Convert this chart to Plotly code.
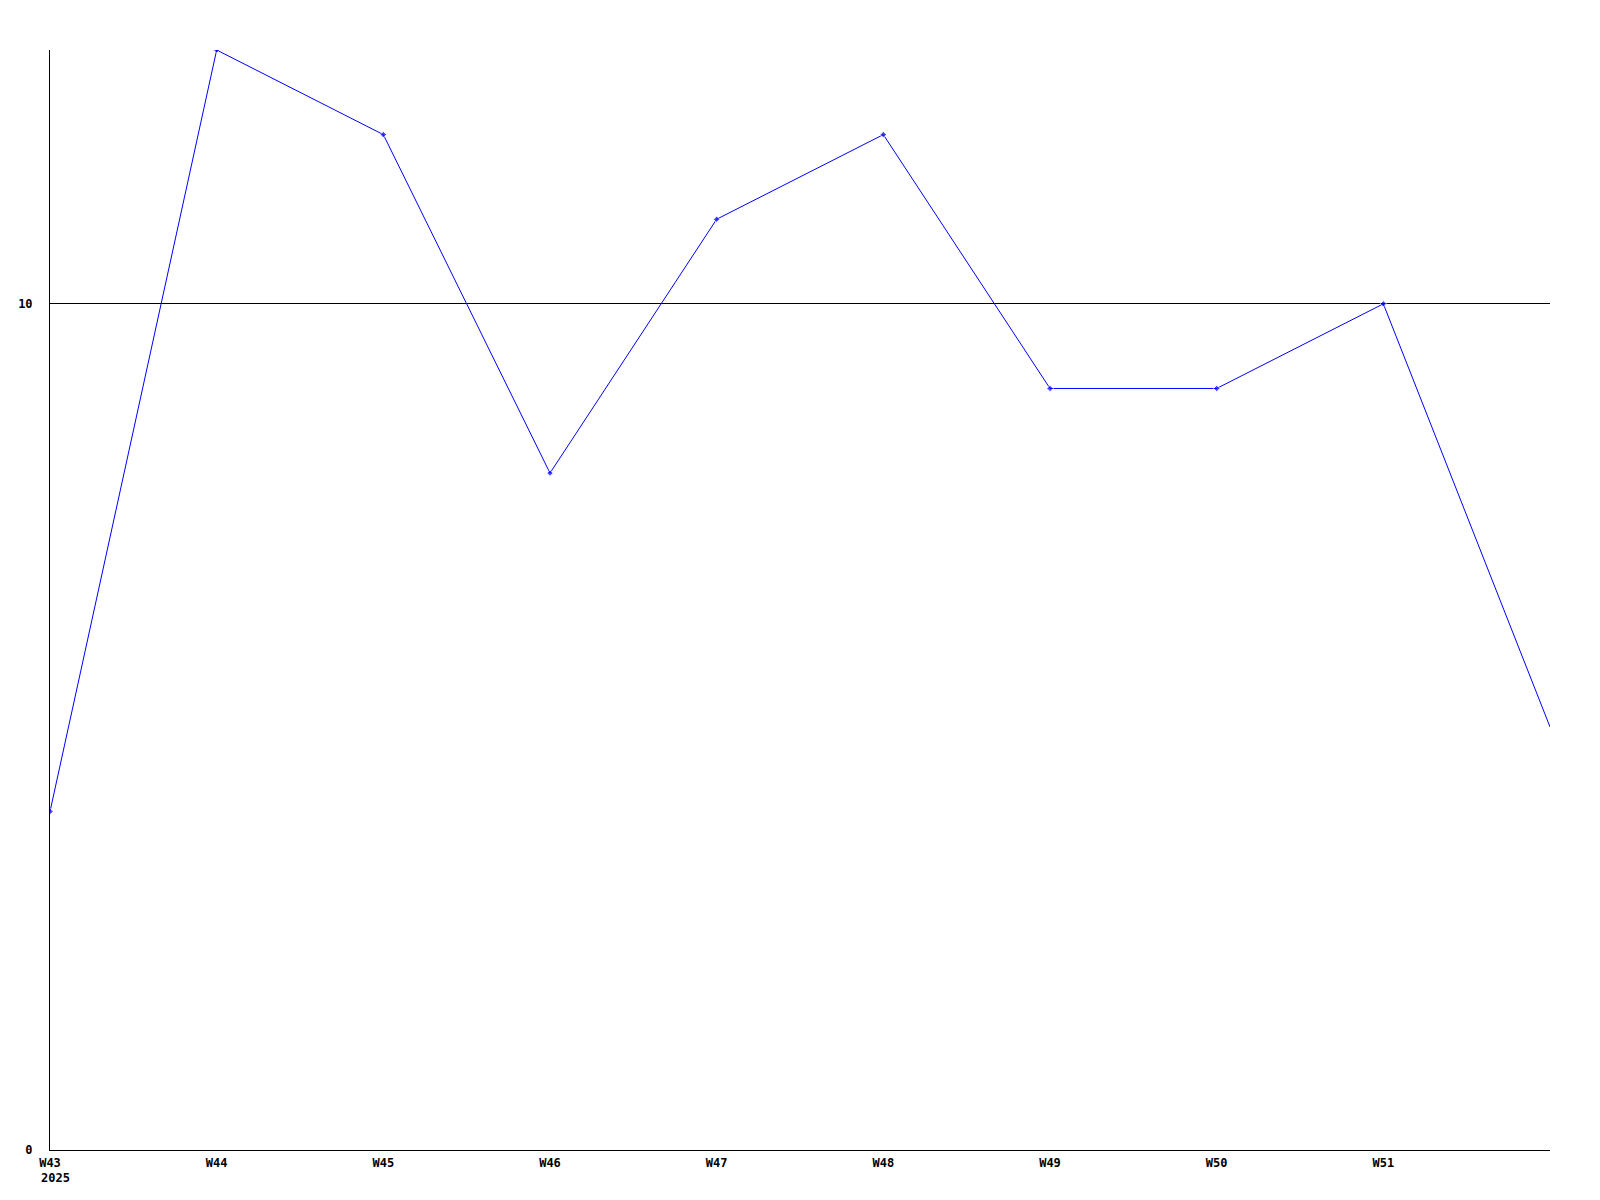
import plotly.graph_objects as go

weeks = ["W43", "W44", "W45", "W46", "W47", "W48", "W49", "W50", "W51", "W52"]
values = [4, 13, 12, 8, 11, 12, 9, 9, 10, 5]
tick_weeks = ["W43", "W44", "W45", "W46", "W47", "W48", "W49", "W50", "W51"]
year_label = "2025"
y_ticks = [0, 10]

marker_sizes = [5] * (len(values) - 1) + [0]

fig = go.Figure()
fig.add_trace(go.Scatter(
    x=weeks, y=values, mode="lines+markers",
    line=dict(color="#0000FF", width=1),
    marker=dict(color="#0000FF", size=marker_sizes, symbol="diamond"),
    hoverinfo="skip",
))

tick_font = dict(family="DejaVu Sans Mono, Liberation Mono, monospace", size=12, color="black", weight="bold")

fig.update_layout(
    width=1584, height=1184,
    margin=dict(l=42, r=42, t=42, b=42),
    paper_bgcolor="white", plot_bgcolor="white",
    showlegend=False,
    xaxis=dict(
        type="category", categoryorder="array", categoryarray=weeks,
        range=[0, len(weeks) - 1], automargin=False,
        tickvals=tick_weeks, ticktext=tick_weeks,
        showgrid=False, zeroline=False,
        showline=True, linecolor="black", linewidth=1,
        ticks="outside", ticklen=2, tickcolor="white",
        tickfont=tick_font,
    ),
    yaxis=dict(
        range=[0, 13], tickvals=y_ticks, automargin=False,
        showgrid=True, gridcolor="black", gridwidth=1,
        zeroline=False,
        showline=True, linecolor="black", linewidth=1,
        ticks="outside", ticklen=14, tickcolor="white",
        tickfont=tick_font,
    ),
    annotations=[dict(
        text=year_label, x=weeks[0], y=0, xref="x", yref="y",
        xanchor="left", yanchor="top", yshift=-19, xshift=-11,
        showarrow=False, font=tick_font,
    )],
)

fig.write_html("out.html")
